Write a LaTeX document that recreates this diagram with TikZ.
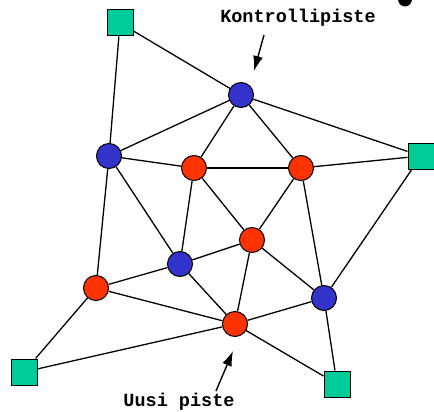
\documentclass[tikz,border=0pt]{standalone}
\usepackage{fontspec}
\setmonofont{Liberation Mono}
\usetikzlibrary{arrows.meta}
\definecolor{sininen}{HTML}{3333CC}
\definecolor{punainen}{HTML}{FF3300}
\definecolor{vihrea}{HTML}{00CC99}

\begin{document}
\begin{tikzpicture}[
    x=1pt, y=-1pt,
    kontrolli/.style={circle, draw=black, line width=1pt, fill=sininen, minimum size=25pt, inner sep=0pt},
    uusi/.style={circle, draw=black, line width=1pt, fill=punainen, minimum size=25pt, inner sep=0pt},
    reuna/.style={rectangle, draw=black, line width=1pt, fill=vihrea, minimum size=26pt, inner sep=0pt},
    viiva/.style={line width=1.3pt},
    teksti/.style={font=\ttfamily\bfseries\fontsize{18.5}{20}\selectfont, inner sep=0pt},
    nuoli/.style={line width=1.4pt, -{Latex[length=15pt,width=10pt]}},
  ]
  \useasboundingbox (0,0) rectangle (434,412);
  \fill[black] (405,-1) ellipse (7 and 7.5);   % piste kulmassa

  \node[reuna] (r1) at (120,23) {};
  \node[reuna] (r2) at (421,156) {};
  \node[reuna] (r3) at (24,372) {};
  \node[reuna] (r4) at (337,384) {};

  \node[kontrolli] (k1) at (241,95) {};
  \node[kontrolli] (k2) at (109,156) {};
  \node[kontrolli] (k3) at (180,264) {};
  \node[kontrolli] (k4) at (324,298) {};

  \node[uusi] (u1) at (194,168) {};
  \node[uusi] (u2) at (301,168) {};
  \node[uusi] (u3) at (252,240) {};
  \node[uusi] (u4) at (96,288) {};
  \node[uusi] (u5) at (235,324) {};

  \draw[viiva] (r1) -- (k2);
  \draw[viiva] (r1) -- (k1);
  \draw[viiva] (k1) -- (k2);
  \draw[viiva] (k1) -- (u1);
  \draw[viiva] (k1) -- (u2);
  \draw[viiva] (k1) -- (r2);
  \draw[viiva] (k2) -- (u1);
  \draw[viiva] (k2) -- (k3);
  \draw[viiva] (k2) -- (u4);
  \draw[line width=1.9pt] (u1) -- (u2);
  \draw[viiva] (u1) -- (k3);
  \draw[viiva] (u1) -- (u3);
  \draw[viiva] (u2) -- (u3);
  \draw[viiva] (u2) -- (r2);
  \draw[viiva] (u2) -- (k4);
  \draw[viiva] (r2) -- (k4);
  \draw[viiva] (u3) -- (k3);
  \draw[viiva] (u3) -- (u5);
  \draw[viiva] (u3) -- (k4);
  \draw[viiva] (k3) -- (u4);
  \draw[viiva] (k3) -- (u5);
  \draw[viiva] (u4) -- (u5);
  \draw[viiva] (u4) -- (r3);
  \draw[viiva] (r3) -- (u5);
  \draw[viiva] (u5) -- (k4);
  \draw[viiva] (u5) -- (r4);
  \draw[viiva] (k4) -- (r4);

  \node[teksti] (kontr) at (298,18) {Kontrollipiste};
  \coordinate (kpaa) at (264,35);
  \coordinate (kkarki) at (254,71);
  \draw[nuoli] (kpaa) -- (kkarki);

  \node[teksti] (upiste) at (179,402) {Uusi piste};
  \coordinate (upaa) at (216,391);
  \coordinate (ukarki) at (233,351);
  \draw[nuoli] (upaa) -- (ukarki);
\end{tikzpicture}
\end{document}
